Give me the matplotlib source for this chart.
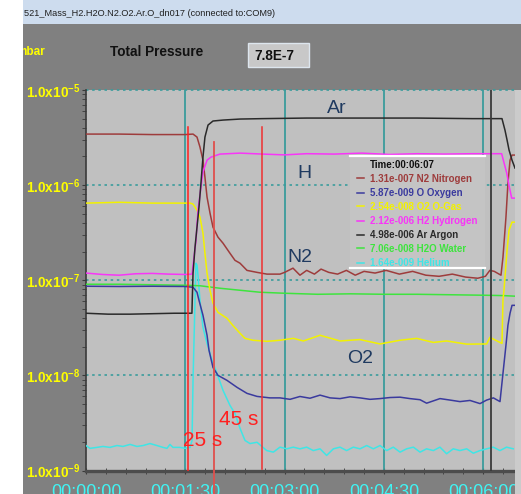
import matplotlib
matplotlib.use('Agg')
import matplotlib.pyplot as plt
import numpy as np
from matplotlib.patches import Rectangle
from matplotlib.lines import Line2D
from matplotlib.ticker import FixedLocator, FuncFormatter, NullFormatter

plt.rcParams['font.family'] = ['Liberation Sans', 'DejaVu Sans']
plt.rcParams['mathtext.fontset'] = 'custom'
plt.rcParams['mathtext.rm'] = 'Liberation Sans'
plt.rcParams['mathtext.bf'] = 'Liberation Sans:bold'

# ---- data (time in s, partial pressure in mbar) ----
ar_t = [0, 20, 40, 60, 80, 96.0, 96.3, 97.0, 98.8, 100.6, 102.4, 104.2, 106.0, 107.8, 110.6,
        115.1, 124.2, 139.6, 160, 200, 250, 300, 350, 377.0, 379.7, 381.6, 383.4, 386.1, 388.8]
ar_v = [4.5e-8, 4.4e-8, 4.4e-8, 4.45e-8, 4.5e-8, 4.5e-8, 6.2e-8, 1.19e-7, 2.22e-7, 3.61e-7, 5.87e-7,
        1.05e-6, 1.97e-6, 3.2e-6, 4.28e-6, 4.72e-6, 4.83e-6, 4.95e-6, 5.0e-6, 5.07e-6, 5.07e-6,
        5.07e-6, 5.0e-6, 5.0e-6, 3.79e-6, 2.98e-6, 2.34e-6, 1.83e-6, 1.51e-6]

h2_t = [0, 15, 30, 45, 60, 75, 90, 96.1, 97.0, 99.7, 101.5, 104.2, 106.0, 109.7, 113.3, 121.4,
        139.6, 160, 180, 200, 225, 250, 275, 300, 325, 350, 376.7, 381.3, 383.7, 385.8, 388.8]
h2_v = [1.19e-7, 1.15e-7, 1.13e-7, 1.17e-7, 1.18e-7, 1.16e-7, 1.15e-7, 1.16e-7, 1.44e-7, 2.64e-7,
        5.45e-7, 9.53e-7, 1.37e-6, 1.83e-6, 1.97e-6, 2.12e-6, 2.17e-6, 2.12e-6, 2.08e-6, 2.14e-6,
        2.12e-6, 2.17e-6, 2.10e-6, 2.14e-6, 2.12e-6, 2.14e-6, 2.14e-6, 1.34e-6, 9.5e-7, 7.3e-7, 7.3e-7]

n2_t = [0, 30, 60, 90, 97.0, 100.6, 103.3, 106.0, 107.8, 109.7, 112.4, 115.1, 119.6, 124.2,
        130.5, 135.0, 139.6, 145.9, 155.0, 164.0, 175.8, 180, 187.6, 193.9, 200, 207, 213, 220,
        228, 236, 244, 252, 262, 272, 284, 296, 308, 320, 332, 344, 355, 362, 366, 370, 376.1,
        377.9, 380.6, 382.4, 384.3, 386.1, 388.8]
n2_v = [3.44e-6, 3.44e-6, 3.40e-6, 3.40e-6, 3.44e-6, 3.2e-6, 2.51e-6, 1.83e-6, 1.21e-6, 7.48e-7,
        5.07e-7, 3.61e-7, 2.84e-7, 2.45e-7, 1.92e-7, 1.62e-7, 1.51e-7, 1.27e-7, 1.21e-7, 1.16e-7,
        1.16e-7, 1.21e-7, 1.34e-7, 1.13e-7, 1.27e-7, 1.16e-7, 1.31e-7, 1.21e-7, 1.16e-7, 1.27e-7,
        1.13e-7, 1.24e-7, 1.19e-7, 1.27e-7, 1.16e-7, 1.24e-7, 1.13e-7, 1.10e-7, 1.16e-7, 1.08e-7,
        1.05e-7, 1.10e-7, 1.27e-7, 1.24e-7, 1.13e-7, 1.75e-7, 4.6e-7, 1.05e-6, 1.83e-6, 2.07e-6,
        2.07e-6]

o2_t = [0, 30, 60, 94.3, 97.0, 100.6, 103.3, 106.0, 107.8, 109.7, 112.4, 115.1, 119.6, 127.8,
        133.0, 139.6, 144.1, 151.3, 164.0, 175.8, 187.9, 197.0, 212.1, 230.2, 248.3, 266.5,
        284.6, 299.7, 314.8, 326.9, 345.0, 363.1, 366.1, 375.2, 377.0, 377.9, 378.8, 381.6,
        383.4, 386.1, 388.8]
o2_v = [6.47e-7, 6.6e-7, 6.47e-7, 6.47e-7, 6.32e-7, 5.45e-7, 4.6e-7, 3.13e-7, 1.92e-7, 1.19e-7,
        7.85e-8, 5.73e-8, 4.6e-8, 3.98e-8, 3.36e-8, 2.77e-8, 2.45e-8, 2.34e-8, 2.28e-8, 2.34e-8,
        2.45e-8, 2.3e-8, 2.64e-8, 2.3e-8, 2.38e-8, 2.14e-8, 2.34e-8, 2.45e-8, 2.22e-8, 2.3e-8,
        2.13e-8, 2.14e-8, 2.51e-8, 2.22e-8, 2.17e-8, 6.16e-8, 7.85e-8, 2.07e-7, 3.36e-7, 4.08e-7,
        4.08e-7]

o_t = [0, 30, 60, 90, 97.0, 100.6, 102.4, 106.0, 109.7, 111.5, 115.1, 119.6, 127.8, 136.9, 145.9,
       155.0, 166.7, 175.8, 184.9, 193.9, 203.0, 212.1, 221.2, 230.2, 239.3, 248.3, 257.4, 266.5,
       275.5, 284.6, 293.6, 302.7, 308.7, 320.8, 329.9, 338.9, 348.0, 357.1, 363.1, 369.2, 375.2,
       377.9, 380.6, 382.4, 384.3, 386.1, 388.8]
o_v = [8.65e-8, 8.6e-8, 8.65e-8, 8.6e-8, 8.44e-8, 7.48e-8, 6.16e-8, 4.29e-8, 2.64e-8, 1.83e-8,
       1.21e-8, 1.0e-8, 8.86e-9, 7.48e-9, 6.47e-9, 6.01e-9, 5.8e-9, 5.8e-9, 5.6e-9, 6.0e-9,
       5.75e-9, 6.2e-9, 5.8e-9, 5.7e-9, 5.95e-9, 5.8e-9, 5.6e-9, 5.7e-9, 5.85e-9, 5.9e-9,
       5.7e-9, 5.55e-9, 5.1e-9, 5.7e-9, 5.5e-9, 5.3e-9, 5.45e-9, 5.05e-9, 5.5e-9, 5.8e-9,
       5.3e-9, 1.05e-8, 2.07e-8, 3.36e-8, 4.5e-8, 5.45e-8, 5.45e-8]

h2o_t = [0, 30, 60, 90, 103.3, 121.4, 139.6, 157.7, 180, 210, 240, 270, 300, 330, 360, 377.9, 388.8]
h2o_v = [9.08e-8, 9.08e-8, 8.97e-8, 8.86e-8, 8.75e-8, 8.24e-8, 7.85e-8, 7.48e-8, 7.3e-8, 7.12e-8,
         7.2e-8, 7.12e-8, 7.12e-8, 7.04e-8, 6.96e-8, 6.9e-8, 6.8e-8]

he_t = [0, 3.6, 10.0, 15.4, 21.7, 28.1, 33.5, 39.9, 46.2, 51.7, 58.0, 64.3, 69.8, 73.4, 76.1, 78.8,
        85.2, 89.7, 94.3, 96.1, 97.0, 98.8, 99.7, 100.6, 101.5, 103.3, 106.0, 109.7, 114.2, 118.7,
        124.2, 130.5, 135.0, 139.6, 144.1, 148.6, 155.0, 160.4, 163.8, 169.8, 175.8, 181.9, 187.9,
        193.9, 200.0, 206.0, 212.1, 218.1, 224.2, 230.2, 236.2, 242.3, 248.3, 254.4, 260.4, 266.5,
        272.5, 278.5, 284.6, 290.6, 296.7, 302.7, 308.7, 314.8, 320.8, 326.8, 332.9, 338.9, 345.0,
        351.0, 357.1, 363.1, 369.1, 375.2, 381.2, 387.2]
he_v = [1.83e-9, 1.71e-9, 1.75e-9, 1.79e-9, 1.75e-9, 1.83e-9, 1.79e-9, 1.88e-9, 1.79e-9, 1.83e-9,
        1.92e-9, 1.83e-9, 1.75e-9, 1.71e-9, 1.88e-9, 1.75e-9, 1.75e-9, 1.71e-9,
        1.75e-9, 2.07e-9, 8.86e-9, 6.16e-8, 1.51e-7, 1.44e-7, 1.13e-7, 6.16e-8, 3.2e-8, 2.17e-8,
        1.44e-8, 1.05e-8, 6.95e-9, 4.83e-9, 3.98e-9, 2.77e-9, 2.07e-9, 1.92e-9, 1.98e-9, 1.75e-9,
        1.62e-9, 1.56e-9, 1.76e-9, 1.69e-9, 1.76e-9, 1.69e-9, 1.76e-9, 1.62e-9, 1.69e-9, 1.44e-9,
        1.69e-9, 1.76e-9, 1.62e-9, 1.76e-9, 1.69e-9, 1.83e-9, 1.69e-9, 1.83e-9, 1.62e-9, 1.76e-9,
        1.56e-9, 1.69e-9, 1.76e-9, 1.56e-9, 1.69e-9, 1.62e-9, 1.76e-9, 1.50e-9, 1.69e-9, 1.62e-9,
        1.69e-9, 1.52e-9, 1.62e-9, 1.69e-9, 1.76e-9, 1.62e-9, 1.76e-9, 1.69e-9]

# legend order, names and readout at cursor
legend_keys = ['N2', 'O', 'O2', 'H2', 'Ar', 'H2O', 'He']
legend_names = ['N2 Nitrogen', 'O Oxygen', 'O2 O-Gas', 'H2 Hydrogen', 'Ar Argon', 'H2O Water', 'Helium']
legend_values = [1.31e-7, 5.87e-9, 2.54e-8, 2.12e-6, 4.98e-6, 7.06e-8, 1.64e-9]
cursor_time = 367
marker_times = [92.4, 116.0, 159.5]

series = {
    'He': (he_t, he_v, '#3ee6e6'),
    'H2O': (h2o_t, h2o_v, '#3ee43e'),
    'O': (o_t, o_v, '#3a3a9e'),
    'O2': (o2_t, o2_v, '#f2f200'),
    'N2': (n2_t, n2_v, '#9e3c3c'),
    'H2': (h2_t, h2_v, '#f835f8'),
    'Ar': (ar_t, ar_v, '#2a2a2a'),
}

W, H = 521, 494
fig = plt.figure(figsize=(W / 100, H / 100), dpi=100)
fig.patch.set_facecolor('#808080')


def fx(x):
    return x / W


def fy(y):
    return 1 - y / H


# window chrome
fig.patches.append(Rectangle((fx(23), fy(24)), 1, 24 / H, transform=fig.transFigure,
                             facecolor='#cddcee', edgecolor='none', zorder=1))
fig.text(fx(24), fy(13), '521_Mass_H2.H2O.N2.O2.Ar.O_dn017 (connected to:COM9)',
         fontsize=6.6, color='#202020', va='center', ha='left', zorder=3)
fig.text(fx(16), fy(52), 'mbar', fontsize=8.5, fontweight='bold', color='#ffff00',
         va='center', ha='left', zorder=3)
fig.text(fx(110), fy(52), 'Total Pressure', fontsize=9.8, fontweight='bold', color='#111111',
         va='center', ha='left', zorder=3)
fig.patches.append(Rectangle((fx(248), fy(67)), 61 / W, 24 / H, transform=fig.transFigure,
                             facecolor='#c8c8c8', edgecolor='#dde6ee', lw=1, zorder=2))
fig.text(fx(254), fy(55.5), '7.8E-7', fontsize=9.8, fontweight='bold', color='#111111',
         va='center', ha='left', zorder=3)
fig.patches.append(Rectangle((0, 0), 23 / W, 1, transform=fig.transFigure,
                             facecolor='white', edgecolor='none', zorder=10))
fig.patches.append(Rectangle((fx(515), 0), 6 / W, fy(90), transform=fig.transFigure,
                             facecolor='#cbcbcb', edgecolor='none', zorder=1))

# plot area
ax = fig.add_axes([fx(86), fy(470.5), (515 - 86) / W, (470.5 - 90) / H])
ax.set_facecolor('#c0c0c0')
ax.set_yscale('log')
ax.set_xlim(0, 388.8)
ax.set_ylim(1e-9, 1e-5)

for key, (t, v, c) in series.items():
    ax.plot(t, v, color=c, lw=1.1, zorder=3)

# grid
for dec in [1e-8, 1e-7, 1e-6, 1e-5]:
    ax.axhline(dec, color='#3a9c9c', lw=1.2, ls=(0, (1.5, 2.2)), zorder=1, clip_on=False)
for tt in [90, 180, 270, 360]:
    ax.axvline(tt, color='#3a9c9c', lw=1.3, zorder=2)

# marker lines
ax.axvline(marker_times[0], ymin=0, ymax=0.903, color='#ff2020', lw=1.1, zorder=4)
ax.axvline(marker_times[1], ymin=-0.062, ymax=0.863, color='#e0504c', lw=1.3, zorder=4,
           clip_on=False)
ax.axvline(marker_times[2], ymin=0.004, ymax=0.903, color='#f03030', lw=1.1, zorder=4)
ax.axvline(cursor_time, color='#3a3a3a', lw=1.3, zorder=4)

ax.text(87.9, 10 ** -8.74, '25 s', color='#ff2020', fontsize=15, ha='left', va='baseline', zorder=5)
ax.text(120.5, 10 ** -8.52, '45 s', color='#ff2020', fontsize=15, ha='left', va='baseline', zorder=5)
label_color = '#1f3a60'
ax.text(218.4, 10 ** -5.245, 'Ar', color=label_color, fontsize=14, va='baseline', zorder=5)
ax.text(191.2, 10 ** -5.93, 'H', color=label_color, fontsize=14, va='baseline', zorder=5)
ax.text(182.2, 10 ** -6.81, 'N2', color=label_color, fontsize=14, va='baseline', zorder=5)
ax.text(236.5, 10 ** -7.875, 'O2', color=label_color, fontsize=14, va='baseline', zorder=5)

# axes styling
for s in ['top', 'right']:
    ax.spines[s].set_visible(False)
ax.spines['left'].set_color('#3a3a3a')
ax.spines['left'].set_linewidth(1.2)
ax.spines['bottom'].set_color('#4c4c4c')
ax.spines['bottom'].set_linewidth(2.4)

ax.xaxis.set_major_locator(FixedLocator([0, 90, 180, 270, 360]))
ax.xaxis.set_minor_locator(FixedLocator(np.arange(0, 389, 18)))
ax.xaxis.set_major_formatter(FuncFormatter(
    lambda v, p: '%02d:%02d:%02d' % (v // 3600, (v % 3600) // 60, v % 60)))
ax.tick_params(axis='x', which='both', direction='inout', length=5, color='#3a3a3a',
               labelsize=13, labelcolor='#40f4f4', pad=7.5)

ax.yaxis.set_major_locator(FixedLocator([1e-9, 1e-8, 1e-7, 1e-6, 1e-5]))
minor = [m * 10.0 ** e for e in range(-9, -5) for m in range(2, 10)]
ax.yaxis.set_minor_locator(FixedLocator(minor))
ax.yaxis.set_minor_formatter(NullFormatter())
ax.yaxis.set_major_formatter(FuncFormatter(
    lambda v, p: r'1.0x10$^{\mathbf{%d}}$' % round(np.log10(v))))
ax.tick_params(axis='y', which='both', direction='out', length=3, color='#3a3a3a',
               labelsize=9.8, labelcolor='#ffff00', pad=1)
for lbl in ax.get_yticklabels():
    lbl.set_fontweight('bold')

# readout legend
fig.patches.append(Rectangle((fx(350), fy(268)), 135 / W, 112 / H, transform=fig.transFigure,
                             facecolor='#c4c4c4', edgecolor='none', zorder=5))
for yy in [156, 268]:
    fig.lines.append(Line2D([fx(350), fx(485)], [fy(yy), fy(yy)], transform=fig.transFigure,
                            color='white', lw=1.6, zorder=6))
fig.text(fx(370), fy(165), 'Time:00:06:07', fontsize=7, fontweight='bold', color='#111111',
         va='center', ha='left', zorder=7)
for i, (key, name, val) in enumerate(zip(legend_keys, legend_names, legend_values)):
    c = series[key][2]
    yy = 178.5 + 14 * i
    mant, ex = ('%.2e' % val).split('e')
    txt = '%se-%03d %s' % (mant, abs(int(ex)), name)
    fig.lines.append(Line2D([fx(357), fx(364)], [fy(yy), fy(yy)], transform=fig.transFigure,
                            color=c, lw=1.1, zorder=7))
    fig.text(fx(370), fy(yy), txt, fontsize=7, fontweight='bold', color=c,
             va='center', ha='left', zorder=7)

fig.savefig('out.png', dpi=100, facecolor=fig.get_facecolor())
